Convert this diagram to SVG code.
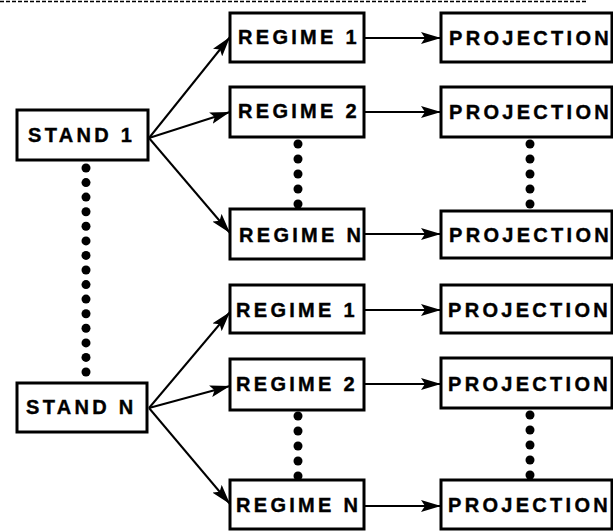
<svg xmlns="http://www.w3.org/2000/svg" width="613" height="531" viewBox="0 0 613 531">
<style>
  .box { fill: #fff; stroke: #000; stroke-width: 3; }
  .lbl { font-family: "Liberation Sans", Arial, sans-serif; font-weight: bold; font-size: 20px; letter-spacing: 3.3px; fill: #000; stroke: #000; stroke-width: 0.4; }
  .conn { stroke: #000; stroke-width: 2; fill: none; }
  .dot { fill: #000; }
</style>
<defs>
  <marker id="ah" viewBox="0 0 20 12" refX="20" refY="6" markerWidth="20" markerHeight="12" markerUnits="userSpaceOnUse" orient="auto">
    <path d="M0,0 L20,6 L0,12 L4,6 Z" fill="#000"/>
  </marker>
</defs>
<line x1="0" y1="1.5" x2="587" y2="1.5" stroke="#000" stroke-width="1.5" stroke-dasharray="4,2"/>

<g id="connectors">
  <line class="conn" x1="149" y1="138" x2="230" y2="37" marker-end="url(#ah)"/>
  <line class="conn" x1="149" y1="138" x2="230" y2="112" marker-end="url(#ah)"/>
  <line class="conn" x1="149" y1="138" x2="230" y2="233" marker-end="url(#ah)"/>
  <line class="conn" x1="149" y1="408" x2="230" y2="312" marker-end="url(#ah)"/>
  <line class="conn" x1="149" y1="408" x2="230" y2="386" marker-end="url(#ah)"/>
  <line class="conn" x1="149" y1="408" x2="230" y2="504" marker-end="url(#ah)"/>
  <line class="conn" x1="364" y1="38" x2="441" y2="38" marker-end="url(#ah)"/>
  <line class="conn" x1="364" y1="112" x2="441" y2="112" marker-end="url(#ah)"/>
  <line class="conn" x1="364" y1="234" x2="441" y2="234" marker-end="url(#ah)"/>
  <line class="conn" x1="364" y1="310" x2="441" y2="310" marker-end="url(#ah)"/>
  <line class="conn" x1="364" y1="384" x2="441" y2="384" marker-end="url(#ah)"/>
  <line class="conn" x1="364" y1="506" x2="441" y2="506" marker-end="url(#ah)"/>
  <g id="dots">
    <circle class="dot" cx="86" cy="168" r="4.5"/>
    <circle class="dot" cx="86" cy="182.6" r="4.5"/>
    <circle class="dot" cx="86" cy="197.1" r="4.5"/>
    <circle class="dot" cx="86" cy="211.7" r="4.5"/>
    <circle class="dot" cx="86" cy="226.3" r="4.5"/>
    <circle class="dot" cx="86" cy="240.9" r="4.5"/>
    <circle class="dot" cx="86" cy="255.4" r="4.5"/>
    <circle class="dot" cx="86" cy="270" r="4.5"/>
    <circle class="dot" cx="86" cy="284.6" r="4.5"/>
    <circle class="dot" cx="86" cy="299.1" r="4.5"/>
    <circle class="dot" cx="86" cy="313.7" r="4.5"/>
    <circle class="dot" cx="86" cy="328.3" r="4.5"/>
    <circle class="dot" cx="86" cy="342.9" r="4.5"/>
    <circle class="dot" cx="86" cy="357.4" r="4.5"/>
    <circle class="dot" cx="86" cy="372" r="4.5"/>
    <circle class="dot" cx="298" cy="144" r="4.5"/>
    <circle class="dot" cx="298" cy="159" r="4.5"/>
    <circle class="dot" cx="298" cy="174" r="4.5"/>
    <circle class="dot" cx="298" cy="189" r="4.5"/>
    <circle class="dot" cx="298" cy="204" r="4.5"/>
    <circle class="dot" cx="530" cy="144" r="4.5"/>
    <circle class="dot" cx="530" cy="159" r="4.5"/>
    <circle class="dot" cx="530" cy="174" r="4.5"/>
    <circle class="dot" cx="530" cy="189" r="4.5"/>
    <circle class="dot" cx="530" cy="204" r="4.5"/>
    <circle class="dot" cx="298" cy="416" r="4.5"/>
    <circle class="dot" cx="298" cy="431" r="4.5"/>
    <circle class="dot" cx="298" cy="446" r="4.5"/>
    <circle class="dot" cx="298" cy="461" r="4.5"/>
    <circle class="dot" cx="298" cy="476" r="4.5"/>
    <circle class="dot" cx="530" cy="415" r="4.5"/>
    <circle class="dot" cx="530" cy="430" r="4.5"/>
    <circle class="dot" cx="530" cy="445" r="4.5"/>
    <circle class="dot" cx="530" cy="460" r="4.5"/>
    <circle class="dot" cx="530" cy="475" r="4.5"/>
  </g>
</g>

<g id="stand1"><rect class="box" x="17" y="110" width="131" height="50"/><text class="lbl" x="28" y="142">STAND 1</text></g>
<g id="standN"><rect class="box" x="17" y="383" width="130" height="49"/><text class="lbl" x="26" y="414">STAND N</text></g>

<g id="regime1a"><rect class="box" x="230" y="13" width="134" height="49"/><text class="lbl" x="238" y="44">REGIME 1</text></g>
<g id="regime2a"><rect class="box" x="230" y="87" width="134" height="50"/><text class="lbl" x="238" y="118">REGIME 2</text></g>
<g id="regimeNa"><rect class="box" x="230" y="209" width="134" height="50"/><text class="lbl" x="239" y="242">REGIME N</text></g>
<g id="regime1b"><rect class="box" x="230" y="285" width="134" height="48"/><text class="lbl" x="236" y="317">REGIME 1</text></g>
<g id="regime2b"><rect class="box" x="230" y="359" width="134" height="51"/><text class="lbl" x="236" y="391">REGIME 2</text></g>
<g id="regimeNb"><rect class="box" x="230" y="480" width="134" height="49"/><text class="lbl" x="236" y="512">REGIME N</text></g>

<g id="proj1a"><rect class="box" x="441" y="13" width="171" height="49"/><text class="lbl" x="449" y="45">PROJECTION</text></g>
<g id="proj2a"><rect class="box" x="441" y="87" width="171" height="50"/><text class="lbl" x="449" y="119">PROJECTION</text></g>
<g id="projNa"><rect class="box" x="441" y="211" width="171" height="47"/><text class="lbl" x="449" y="242">PROJECTION</text></g>
<g id="proj1b"><rect class="box" x="441" y="285" width="171" height="48"/><text class="lbl" x="448" y="317">PROJECTION</text></g>
<g id="proj2b"><rect class="box" x="441" y="358" width="171" height="50"/><text class="lbl" x="448" y="391">PROJECTION</text></g>
<g id="projNb"><rect class="box" x="441" y="480" width="171" height="49"/><text class="lbl" x="448" y="512">PROJECTION</text></g>
</svg>
